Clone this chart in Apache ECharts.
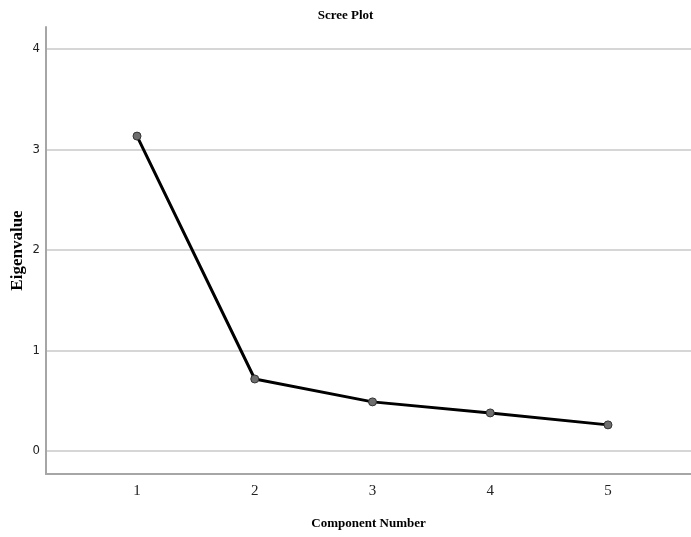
<!DOCTYPE html>
<html>
<head>
<meta charset="utf-8">
<script src="https://cdn.jsdelivr.net/npm/echarts@6/dist/echarts.min.js"></script>
<style>
  html, body { margin: 0; padding: 0; background: #fff; }
  #chart { width: 691px; height: 537px; }
</style>
</head>
<body>
<div id="chart"></div>
<script>
// Eigenvalues for each extracted component
const components = [1, 2, 3, 4, 5];
const eigenvalues = [3.134, 0.716, 0.488, 0.378, 0.259];
const yTicks = [0, 1, 2, 3, 4];

const chart = echarts.init(document.getElementById('chart'));
const serif = '"Liberation Serif", "Times New Roman", serif';
const narrow = '"Liberation Sans Narrow", "DejaVu Sans Condensed", sans-serif';

chart.setOption({
  animation: false,
  backgroundColor: '#ffffff',
  title: {
    text: 'Scree Plot',
    left: 'center',
    top: 4,
    textStyle: { fontFamily: serif, fontWeight: 'bold', fontSize: 13, color: '#000' }
  },
  grid: { left: 46, right: 0, top: 27, bottom: 63, outerBoundsMode: 'none', containLabel: false },
  xAxis: {
    type: 'value',
    min: 0.227,
    max: 5.705,
    name: 'Component Number',
    nameLocation: 'middle',
    nameGap: 43,
    nameMoveOverlap: false,
    nameTextStyle: { fontFamily: serif, fontWeight: 'bold', fontSize: 13, color: '#000' },
    axisLine: { show: true, onZero: false, lineStyle: { color: '#a6a6a6', width: 2 } },
    axisTick: { show: false },
    splitLine: { show: false },
    axisLabel: {
      customValues: components,
      margin: 10,
      fontFamily: serif,
      fontSize: 15,
      color: '#222'
    }
  },
  yAxis: {
    type: 'value',
    min: -0.23,
    max: 4.22,
    name: 'Eigenvalue',
    nameLocation: 'middle',
    nameGap: 20,
    nameMoveOverlap: false,
    nameTextStyle: { fontFamily: serif, fontWeight: 'bold', fontSize: 17, color: '#000' },
    axisLine: { show: true, onZero: false, lineStyle: { color: '#a6a6a6', width: 2 } },
    axisTick: { show: false, customValues: yTicks },
    axisLabel: {
      customValues: yTicks,
      margin: 6,
      fontFamily: narrow,
      fontSize: 13,
      color: '#222'
    },
    splitLine: { show: true, lineStyle: { color: '#c8c8c8', width: 1.5 } }
  },
  series: [{
    type: 'line',
    data: components.map((c, i) => [c, eigenvalues[i]]),
    symbol: 'circle',
    symbolSize: 8,
    itemStyle: { color: '#6e6e6e', borderColor: '#333', borderWidth: 1 },
    lineStyle: { color: '#000', width: 3 },
    z: 3
  }]
});
</script>
</body>
</html>
